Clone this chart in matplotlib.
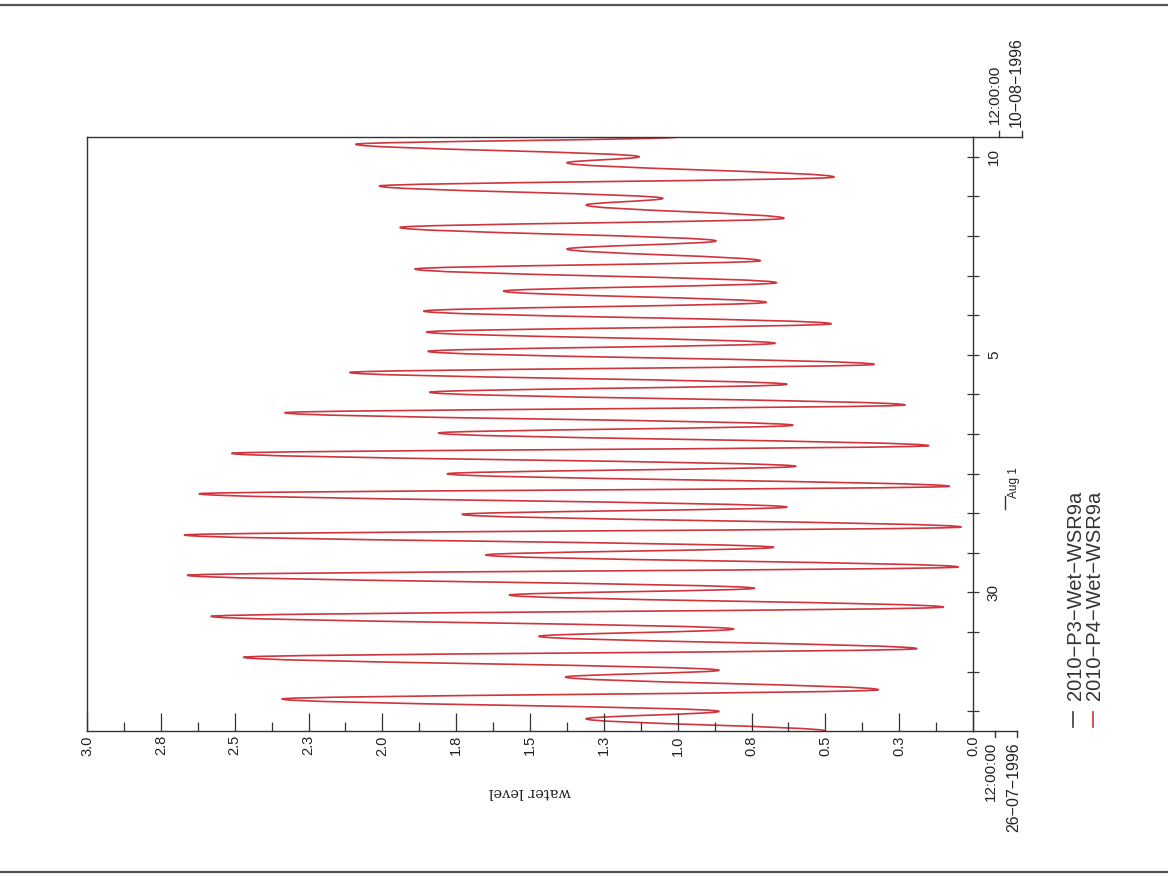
import matplotlib
matplotlib.use("Agg")
import matplotlib.pyplot as plt
import matplotlib.dates as mdates
from matplotlib.lines import Line2D
from matplotlib.path import Path
from matplotlib.patches import PathPatch
from matplotlib.ticker import FixedLocator, FixedFormatter
import pandas as pd

# ---------------- data ----------------
start_time = "1996-07-26 12:00"
end_time = "1996-08-10 12:00"

# hours after start (turning points of the tide curve)
hours_p4 = [0.0, 7.4, 11.9, 19.4, 25.0, 32.7, 36.8, 44.7, 49.9, 57.4, 61.8, 69.5,
            75.1, 82.4, 86.5, 94.4, 99.4, 106.7, 111.3, 118.8, 123.6, 131.3, 135.7,
            143.8, 148.3, 155.9, 160.4, 168.3, 172.9, 180.6, 185.3, 192.9, 197.6,
            205.3, 210.1, 217.3, 222.2, 230.1, 235.0, 241.8, 246.8, 254.5, 259.8,
            266.6, 271.7, 280.0, 285.0, 292.1, 297.0, 305.2, 310.7, 318.8, 322.8,
            330.3, 335.7, 344.4, 348.0, 355.6, 360.0]
level_p4 = [0.50, 1.31, 0.86, 2.34, 0.32, 1.38, 0.86, 2.47, 0.19, 1.47, 0.81, 2.58,
            0.10, 1.57, 0.74, 2.66, 0.05, 1.65, 0.675, 2.67, 0.04, 1.73, 0.63,
            2.62, 0.08, 1.78, 0.60, 2.51, 0.15, 1.81, 0.61, 2.33, 0.23,
            1.84, 0.63, 2.11, 0.335, 1.845, 0.67, 1.85, 0.48, 1.86, 0.70,
            1.59, 0.665, 1.89, 0.72, 1.375, 0.87, 1.94, 0.64, 1.31, 1.05,
            2.01, 0.47, 1.375, 1.13, 2.09, 1.0]

level_ticks = [0.0, 0.25, 0.5, 0.75, 1.0, 1.25, 1.5, 1.75, 2.0, 2.25, 2.5, 2.75, 3.0]
level_labels = ["0.0", "0.3", "0.5", "0.8", "1.0", "1.3", "1.5", "1.8", "2.0", "2.3", "2.5", "2.8", "3.0"]
level_minor = [0.125, 0.375, 0.625, 0.875, 1.125, 1.375, 1.625, 1.875, 2.125, 2.375, 2.625, 2.875]

day_labels = {"1996-07-30": "30", "1996-08-05": "5", "1996-08-10": "10"}
series_names = ["2010\u2212P3\u2212Wet\u2212WSR9a", "2010\u2212P4\u2212Wet\u2212WSR9a"]
series_colors = ["#3a3a3a", "#d0343c"]

# ---------------- figure ----------------
W, H = 1168, 877
fig = plt.figure(figsize=(W / 100, H / 100), dpi=100)
fig.patch.set_facecolor("white")

def fx(px):
    return px / W

def fy(py):
    return 1 - py / H

ax = fig.add_axes([fx(87), fy(731), fx(973) - fx(87), fy(137) - fy(731)])

t0 = pd.Timestamp(start_time)
t1 = pd.Timestamp(end_time)
times = [mdates.date2num(t0 + pd.Timedelta(hours=h)) for h in hours_p4]

# smooth tide curve: cubic Bezier segments between the turning points
verts = [(level_p4[0], times[0])]
codes = [Path.MOVETO]
for i in range(len(times) - 1):
    dt = times[i + 1] - times[i]
    verts += [(level_p4[i], times[i] + 0.36 * dt),
              (level_p4[i + 1], times[i + 1] - 0.36 * dt),
              (level_p4[i + 1], times[i + 1])]
    codes += [Path.CURVE4] * 3
ax.add_patch(PathPatch(Path(verts, codes), fill=False, edgecolor=series_colors[1],
                       lw=1.2, joinstyle="round"))

ax.set_xlim(3.0, 0.0)
ax.set_ylim(mdates.date2num(t0), mdates.date2num(t1))

axis_color = "#333333"
for s in ax.spines.values():
    s.set_color(axis_color)
    s.set_linewidth(1.0)

# level axis (bottom)
ax.xaxis.set_major_locator(FixedLocator(level_ticks))
ax.xaxis.set_major_formatter(FixedFormatter(level_labels))
ax.xaxis.set_minor_locator(FixedLocator(level_minor))
ax.tick_params(axis="x", which="major", direction="in", length=13, width=0.9,
               color=axis_color, labelsize=10.5, labelrotation=90, pad=3)
ax.tick_params(axis="x", which="minor", direction="in", length=6.5, width=0.9,
               color=axis_color)
for lbl in ax.get_xticklabels():
    lbl.set_fontfamily("Liberation Sans")
    lbl.set_color("#222222")

# time axis (right)
days = pd.date_range("1996-07-27", "1996-08-10", freq="D")
ax.yaxis.set_major_locator(FixedLocator([mdates.date2num(d) for d in days]))
ax.yaxis.set_major_formatter(FixedFormatter([day_labels.get(d.strftime("%Y-%m-%d"), "") for d in days]))
ax.tick_params(axis="y", which="major", left=False, right=True, labelleft=False,
               labelright=True, direction="inout", length=9, width=0.9,
               color=axis_color, labelsize=11, labelrotation=90, pad=5.5)
for lbl in ax.get_yticklabels():
    lbl.set_va("center")
    lbl.set_fontfamily("Liberation Sans")
    lbl.set_color("#222222")

# "Aug 1" month marker
fig.add_artist(Line2D([fx(1005), fx(1005)], [fy(509), fy(496)], color=axis_color, lw=1.0))
fig.text(fx(1013.5), fy(483), "Aug 1", rotation=90, ha="center", va="center",
         fontsize=8.5, family="Liberation Sans", color="#222222")

# bracket extensions at the time-axis ends
fig.add_artist(Line2D([fx(973), fx(1017)], [fy(731), fy(731)], color=axis_color, lw=1.0))
for px in (995, 1017):
    fig.add_artist(Line2D([fx(px), fx(px)], [fy(731), fy(737)], color=axis_color, lw=1.0))
fig.add_artist(Line2D([fx(973), fx(1022)], [fy(137), fy(137)], color=axis_color, lw=1.0))
for px in (999, 1022):
    fig.add_artist(Line2D([fx(px), fx(px)], [fy(137), fy(131)], color=axis_color, lw=1.0))

fig.text(fx(991), fy(742), "12:00:00", rotation=90, ha="center", va="top",
         fontsize=11, family="Liberation Sans", color="#222222")
fig.text(fx(1013.5), fy(742), "26\u221207\u22121996", rotation=90, ha="center", va="top",
         fontsize=11.5, family="Liberation Sans", color="#222222")
fig.text(fx(995), fy(124), "12:00:00", rotation=90, ha="center", va="bottom",
         fontsize=11, family="Liberation Sans", color="#222222")
fig.text(fx(1016), fy(127), "10\u221208\u22121996", rotation=90, ha="center", va="bottom",
         fontsize=11.5, family="Liberation Sans", color="#222222")

# axis title (printed upside down)
fig.text(fx(530), fy(792), "water level", rotation=180, ha="center", va="center",
         fontsize=10.5, family="DejaVu Serif", color="#222222")

# legend (rotated)
for i, (name, col) in enumerate(zip(series_names, series_colors)):
    xc = 1074 + i * 19.5
    fig.add_artist(Line2D([fx(xc - 1), fx(xc - 1)], [fy(727), fy(712)], color=col, lw=1.2))
    fig.text(fx(xc + 1), fy(700), name, rotation=90, ha="center", va="bottom",
             fontsize=14.5, family="Liberation Sans", color="#333333")

# page frame lines from the scan
fig.add_artist(Line2D([0, 1], [fy(5), fy(5)], color="#555555", lw=1.6))
fig.add_artist(Line2D([0, 1], [fy(872), fy(872)], color="#555555", lw=1.6))

fig.savefig("out.png", dpi=100)
